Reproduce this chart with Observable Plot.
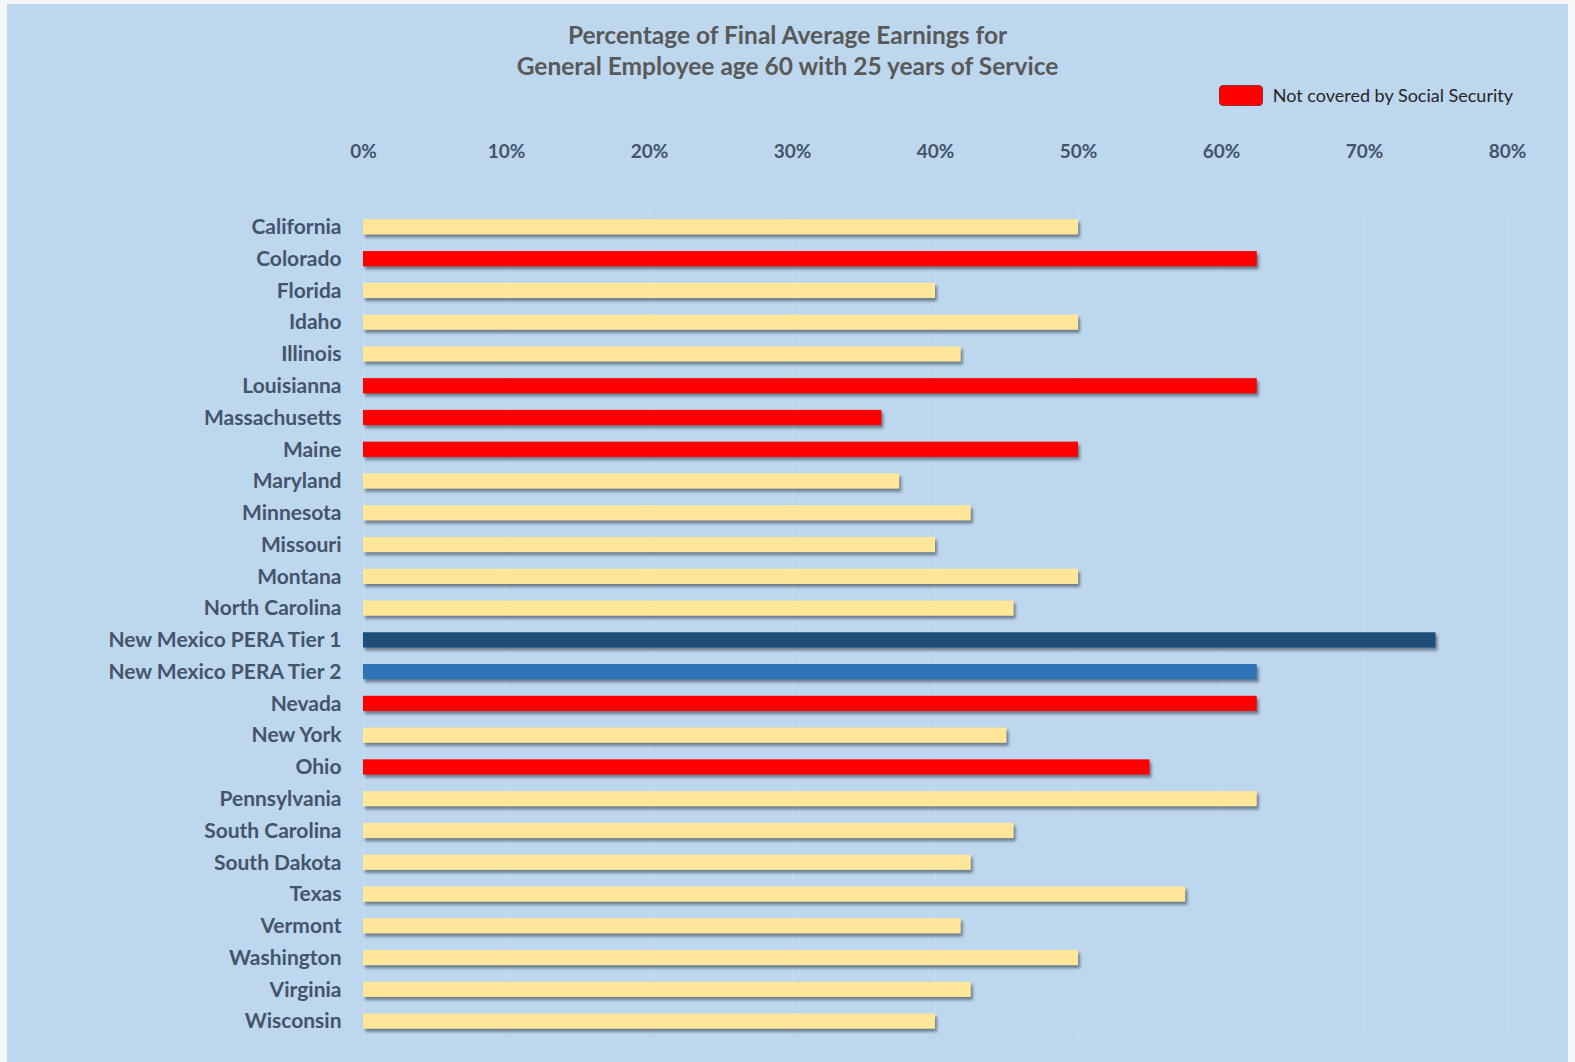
<!DOCTYPE html>
<html>
<head>
<meta charset="utf-8">
<script src="https://cdn.jsdelivr.net/npm/d3@7"></script>
<script src="https://cdn.jsdelivr.net/npm/@observablehq/plot@0.6"></script>
<style>
  html, body { margin: 0; padding: 0; background: #f4f6f8; }
  #frame {
    position: relative; margin-left: 7px; margin-top: 4px;
    width: 1561px; height: 1058px; background: #BDD7EE; overflow: hidden;
    font-family: Lato, "Open Sans", sans-serif;
  }
  #title {
    padding-top: 15px; text-align: center; font-size: 24.5px; font-weight: 700;
    line-height: 31px; color: #595959; height: 62px;
  }
  #legend {
    height: 28px; display: flex; justify-content: flex-end; align-items: center;
    padding-right: 55px; font-size: 18px; color: #262626;
  }
  #legend .sw {
    width: 44px; height: 21px; background: #FF0000; border-radius: 4px;
    border: 1px solid #9b2a2a; margin-right: 10px; box-sizing: border-box;
  }
  #chart svg g[aria-label="bar"] rect {
    filter: drop-shadow(2px 3px 1.5px rgba(40,50,60,0.55));
  }
</style>
</head>
<body>
<div id="frame">
  <div id="title">Percentage of Final Average Earnings for<br>General Employee age 60 with 25 years of Service</div>
  <div id="legend"><div class="sw"></div><span>Not covered by Social Security</span></div>
  <div id="chart"></div>
</div>
<script>
const states = ["California","Colorado","Florida","Idaho","Illinois","Louisianna","Massachusetts","Maine","Maryland","Minnesota","Missouri","Montana","North Carolina","New Mexico PERA Tier 1","New Mexico PERA Tier 2","Nevada","New York","Ohio","Pennsylvania","South Carolina","South Dakota","Texas","Vermont","Washington","Virginia","Wisconsin"];
const percents = [50, 62.5, 40, 50, 41.8, 62.5, 36.25, 50, 37.5, 42.5, 40, 50, 45.5, 75, 62.5, 62.5, 45, 55, 62.5, 45.5, 42.5, 57.5, 41.8, 50, 42.5, 40];
const groups = ["Covered","Not covered","Covered","Covered","Covered","Not covered","Not covered","Not covered","Covered","Covered","Covered","Covered","Covered","NM Tier 1","NM Tier 2","Not covered","Covered","Not covered","Covered","Covered","Covered","Covered","Covered","Covered","Covered","Covered"];
const groupNames = ["Covered","Not covered","NM Tier 1","NM Tier 2"];
const groupColors = ["#FFE699","#FF0000","#1F4E79","#2E75B6"];
const xTicks = [0, 10, 20, 30, 40, 50, 60, 70, 80];

const data = states.map((s, i) => ({state: s, value: percents[i], group: groups[i]}));

const chart = Plot.plot({
  width: 1561,
  height: 952,
  marginLeft: 356,
  marginRight: 61,
  marginTop: 102,
  marginBottom: 24,
  style: {background: "transparent", fontFamily: "Lato, 'Open Sans', sans-serif", overflow: "visible"},
  x: {domain: [0, 80], ticks: xTicks, label: null},
  y: {domain: states, paddingInner: 0.52, paddingOuter: 0.26, round: false, label: null},
  color: {domain: groupNames, range: groupColors},
  marks: [
    Plot.gridX(xTicks, {stroke: "#ffffff", strokeOpacity: 0.15, strokeWidth: 1}),
    Plot.barX(data, {x: "value", y: "state", fill: "group"}),
    Plot.axisX(xTicks, {anchor: "top", label: null, tickSize: 0, tickPadding: 54, tickFormat: d => d + "%", fontSize: 19, fontWeight: 700, fill: "#44546A"}),
    Plot.axisY({label: null, tickSize: 0, tickPadding: 22, fontSize: 21, fontWeight: 700, fill: "#44546A"})
  ]
});
document.getElementById("chart").appendChild(chart);
</script>
</body>
</html>
